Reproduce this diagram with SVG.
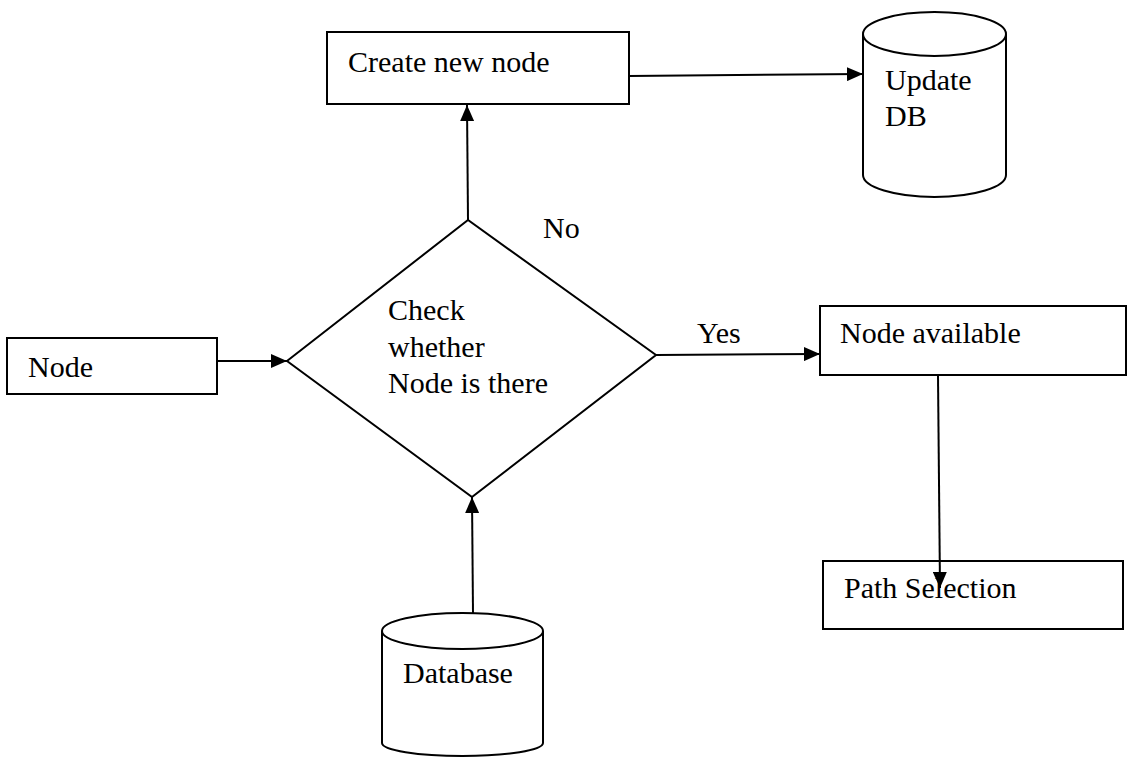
<svg xmlns="http://www.w3.org/2000/svg" width="1135" height="757" viewBox="0 0 1135 757">
<style>
.box{fill:#fff;stroke:#000;stroke-width:2}
.ln{fill:none;stroke:#000;stroke-width:2}
.t{font-family:"Liberation Serif","Times New Roman",serif;font-size:30px;fill:#000}
</style>
<defs>
<marker id="ah" markerWidth="16" markerHeight="14" refX="16" refY="7" orient="auto" markerUnits="userSpaceOnUse">
<path d="M0,0 L16,7 L0,14 Z" fill="#000"/>
</marker>
</defs>
<rect width="1135" height="757" fill="#fff"/>
<g id="create">
<rect class="box" x="327" y="32" width="302" height="72"/>
<text class="t" x="348" y="72">Create new node</text>
</g>
<g id="update">
<path class="box" d="M863,34 L863,175 A71.5,22 0 0 0 1006,175 L1006,34"/>
<ellipse class="box" cx="934.5" cy="34" rx="71.5" ry="22"/>
<text class="t" x="885" y="90">Update</text>
<text class="t" x="885" y="126">DB</text>
</g>
<g id="node">
<rect class="box" x="7" y="338" width="210" height="56"/>
<text class="t" x="28" y="377">Node</text>
</g>
<g id="check">
<polygon class="box" points="287,361 468,220 656,355 472,497"/>
<text class="t" x="388" y="320">Check</text>
<text class="t" x="388" y="357">whether</text>
<text class="t" x="388" y="393">Node is there</text>
</g>
<g id="available">
<rect class="box" x="820" y="306" width="306" height="69"/>
<text class="t" x="840" y="343">Node available</text>
</g>
<g id="path">
<rect class="box" x="823" y="561" width="300" height="68"/>
<text class="t" x="844" y="598">Path Selection</text>
</g>
<g id="database">
<path class="box" d="M382,631 L382,743 A80.5,13 0 0 0 543,743 L543,631"/>
<ellipse class="box" cx="462.5" cy="631" rx="80.5" ry="18"/>
<text class="t" x="403" y="683">Database</text>
</g>
<g id="connectors">
<line class="ln" x1="629" y1="76" x2="863" y2="74" marker-end="url(#ah)"/>
<line class="ln" x1="468" y1="220" x2="467" y2="105" marker-end="url(#ah)"/>
<line class="ln" x1="217" y1="361" x2="287" y2="361" marker-end="url(#ah)"/>
<line class="ln" x1="656" y1="355" x2="820" y2="354" marker-end="url(#ah)"/>
<line class="ln" x1="938" y1="376" x2="940" y2="588" marker-end="url(#ah)"/>
<line class="ln" x1="473" y1="613" x2="472" y2="497" marker-end="url(#ah)"/>
<text class="t" x="543" y="238">No</text>
<text class="t" x="697" y="343">Yes</text>
</g>
</svg>
